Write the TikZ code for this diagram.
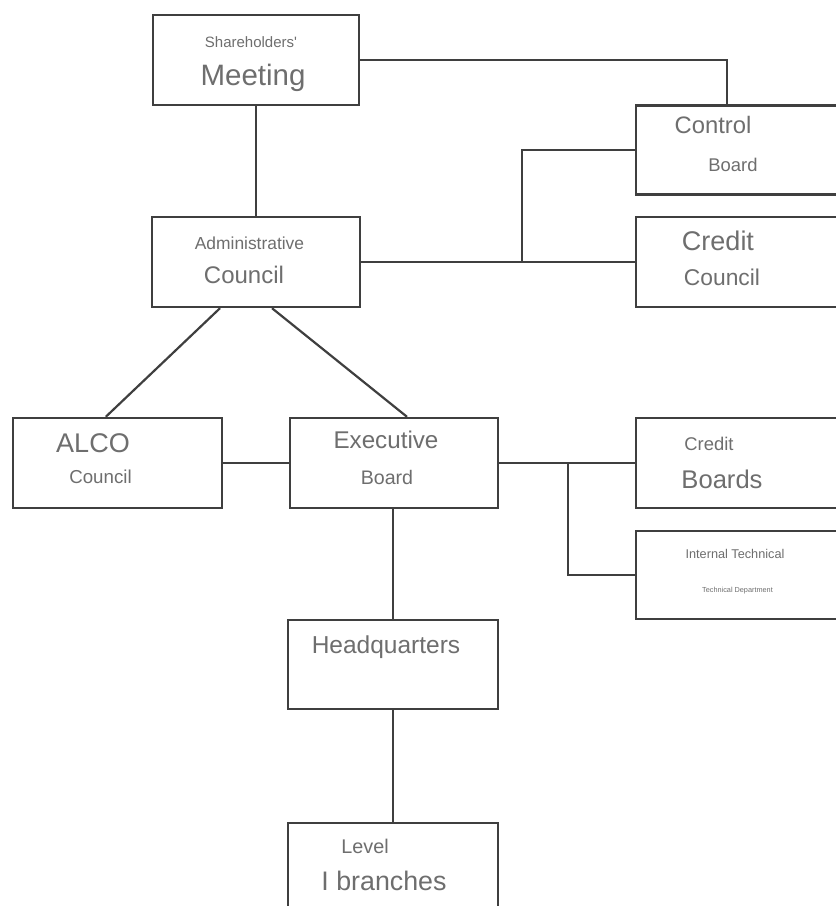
\documentclass[tikz,border=0pt]{standalone}
\usepackage{fontspec}
\setmainfont{Liberation Sans}
\definecolor{linegray}{HTML}{3F3F3F}
\definecolor{textgray}{HTML}{6E6E6E}
\newcommand{\fsz}[1]{\fontsize{#1}{#1}\selectfont}
\begin{document}
\begin{tikzpicture}[x = 1pt, y = -1pt,
        box/.style = {draw = linegray, line width = 2.4pt, fill = white, minimum width = 208pt, minimum height = 90pt, inner sep = 0pt},
        wide/.style = {box, minimum width = 214pt},
        link/.style = {draw = linegray, line width = 2.2pt},
        lbl/.style = {text = textgray, anchor = base, inner sep = 0pt}]
    \useasboundingbox (0, 0) rectangle (836, 906);
    \clip (0, 0) rectangle (836, 906);
    % boxes
    \node[box, minimum width = 206pt] (meeting) at (256, 60) {};
    \node[wide, minimum height = 89pt] (control) at (743, 150) {};
    \node[box] (admin) at (256, 262) {};
    \node[wide] (creditc) at (743, 262) {};
    \node[box, minimum width = 209pt] (alco) at (117.5, 463) {};
    \node[box] (exec) at (394, 463) {};
    \node[wide] (creditb) at (743, 463) {};
    \node[wide, minimum height = 88pt] (internal) at (743, 575) {};
    \node[box, minimum width = 210pt, minimum height = 89pt] (hq) at (393, 664.5) {};
    \node[box, minimum width = 210pt] (level) at (393, 868) {};
    % connectors
    \coordinate (j1) at (522, 262);
    \coordinate (j2) at (568, 463);
    \draw[link] (meeting.south) -- (admin.north);
    \draw[link] (meeting.east) -| ([xshift = 92pt]control.north west);
    \draw[link] (admin.east) -- (creditc.west);
    \draw[link] (j1) |- (control.west);
    \draw[link] ([xshift = -36pt]admin.south) -- ([xshift = 94pt]alco.north west);
    \draw[link] ([xshift = 16pt]admin.south) -- ([xshift = 13pt]exec.north);
    \draw[link] (alco.east) -- (exec.west);
    \draw[link] (exec.east) -- (creditb.west);
    \draw[link] (j2) |- (internal.west);
    \draw[link] (hq.north |- exec.south) -- (hq.north);
    \draw[link] (hq.south) -- (level.north);
    % texts
    \node[lbl, font = \fsz{15}] (meeting-a) at (251, 47) {Shareholders\textquotesingle};
    \node[lbl, font = \fsz{29.5}] (meeting-b) at (253, 85) {Meeting};
    \node[lbl, font = \fsz{23.8}] (control-a) at (713, 133) {Control};
    \node[lbl, font = \fsz{18.4}] (control-b) at (733, 171) {Board};
    \node[lbl, font = \fsz{17.4}] (admin-a) at (249.5, 249) {Administrative};
    \node[lbl, font = \fsz{24}] (admin-b) at (244, 283) {Council};
    \node[lbl, font = \fsz{27}] (creditc-a) at (718, 250) {Credit};
    \node[lbl, font = \fsz{22.8}] (creditc-b) at (722, 285) {Council};
    \node[lbl, font = \fsz{27}] (alco-a) at (93, 452) {ALCO};
    \node[lbl, font = \fsz{18.7}] (alco-b) at (100.5, 483) {Council};
    \node[lbl, font = \fsz{24.2}] (exec-a) at (386, 448) {Executive};
    \node[lbl, font = \fsz{19.6}] (exec-b) at (387, 484) {Board};
    \node[lbl, font = \fsz{18.4}] (creditb-a) at (709, 450) {Credit};
    \node[lbl, font = \fsz{25.6}] (creditb-b) at (722, 488) {Boards};
    \node[lbl, font = \fsz{12.7}] (internal-a) at (735, 558) {Internal Technical};
    \node[lbl, font = \fsz{7.3}] (internal-b) at (737.5, 592) {Technical Department};
    \node[lbl, font = \fsz{24.5}] (hq-a) at (386, 653) {Headquarters};
    \node[lbl, font = \fsz{19.8}] (level-a) at (365, 853) {Level};
    \node[lbl, font = \fsz{26.8}] (level-b) at (384, 890) {I branches};
\end{tikzpicture}
\end{document}
